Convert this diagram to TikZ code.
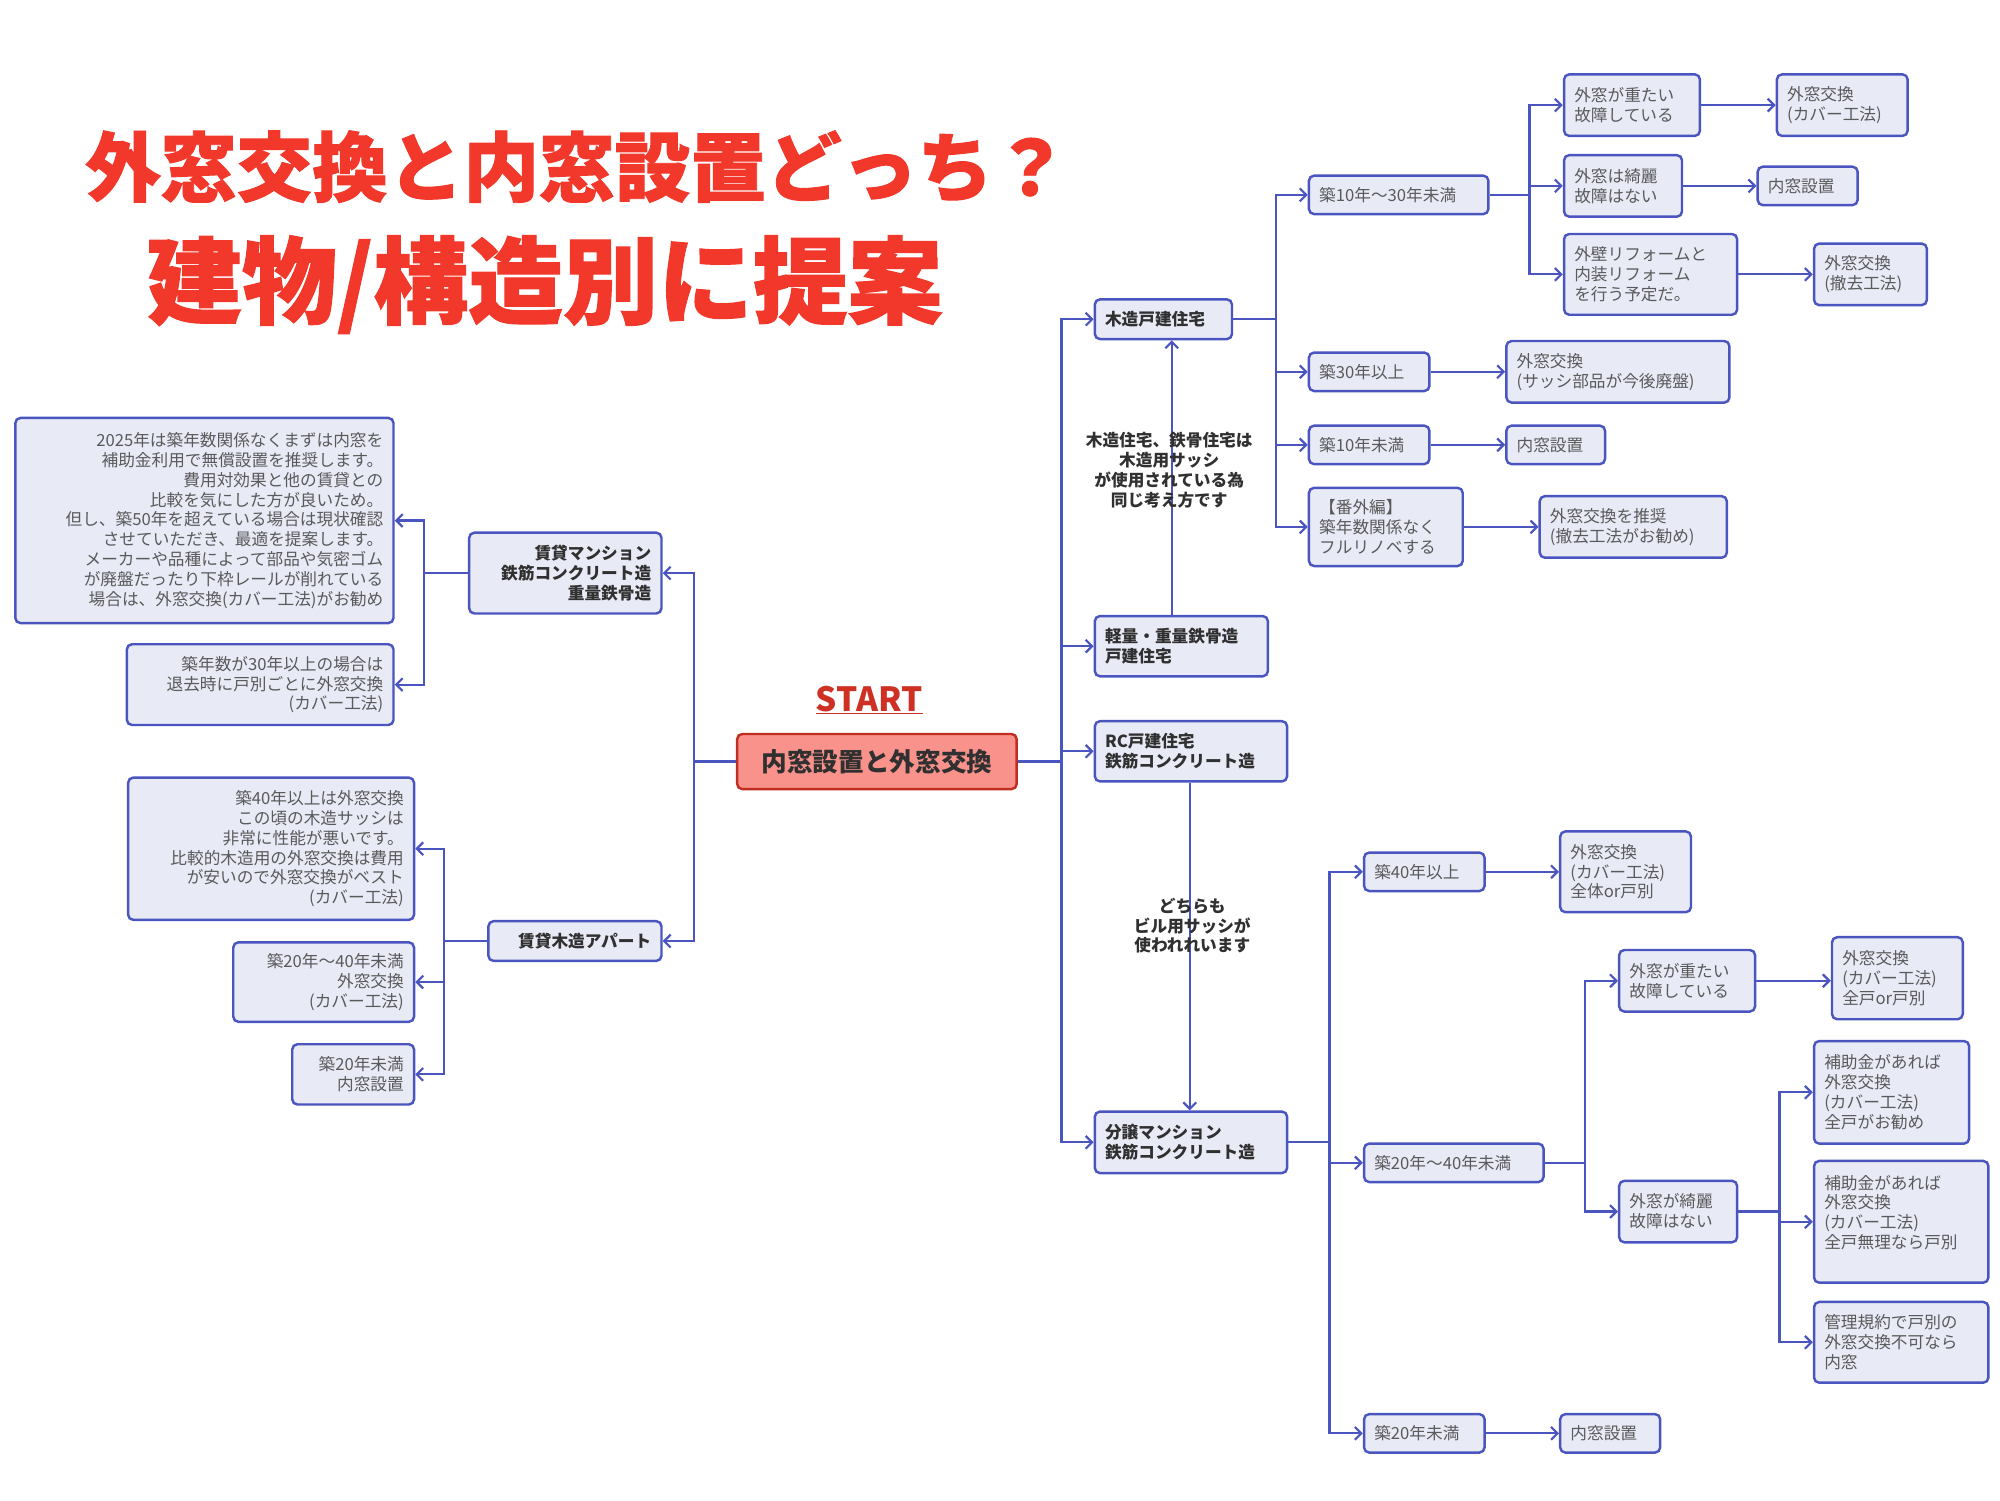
\documentclass[tikz,border=0pt]{standalone}
\usepackage{fontspec}
\setmainfont{Noto Sans CJK JP}
\usetikzlibrary{arrows.meta}
\definecolor{bc}{HTML}{4B55C0}
\definecolor{bf}{HTML}{E8EAF6}
\definecolor{tg}{HTML}{5A5A5A}
\definecolor{td}{HTML}{303030}
\definecolor{tr}{HTML}{F2382B}
\newcommand\fs{\fontsize{13}{15.5}\selectfont}
\newcommand\bx[7][]{\pgfmathsetmacro\tw{#4-#3-16}\node[box,#1,text width=\tw pt,minimum height=#6pt] (#2) at (#3,#5) {#7};}
\begin{document}
\begin{tikzpicture}[x=1pt,y=-1pt,
  box/.style={draw=bc,fill=bf,rounded corners=4pt,line width=1.9pt,inner xsep=8pt,inner ysep=4pt,text=tg,font=\fs,anchor=west,align=left},
  bold/.style={text=td,font=\fs\bfseries},
  arr/.style={draw=bc,line width=1.7pt,-{Straight Barb[length=5pt,width=10pt,line width=1.7pt]}},
  lbl/.style={text=td,font=\fs\bfseries,align=center}]
\useasboundingbox (0,0) rectangle (1560,1170);
% title
\node[text=tr,font=\fontsize{59}{62}\selectfont\bfseries\addfontfeature{FakeBold=1.2}] (t1) at (450,130) {外窓交換と内窓設置どっち？};
\node[text=tr,font=\fontsize{74}{78}\selectfont\bfseries\addfontfeature{FakeBold=1.2}] (t2) at (425,222) {建物/構造別に提案};
% root
\node[text=tr!85!black,font=\fontsize{26}{28}\selectfont\bfseries] (st) at (678,546) {\underline{START}};
\node[draw=tr!80!black,fill=tr!55!white,rounded corners=4pt,line width=1.9pt,minimum width=218pt,minimum height=43pt,text=td,font=\fontsize{20}{22}\selectfont\bfseries] (root) at (684,594) {内窓設置と外窓交換};
% right level 1
\bx[bold]{A}{853}{960}{249}{31}{木造戸建住宅}
\bx[bold]{B}{853}{988}{504}{47}{軽量・重量鉄骨造\\戸建住宅}
\bx[bold]{C}{853}{1003}{586}{47}{RC戸建住宅\\鉄筋コンクリート造}
\bx[bold]{D}{853}{1003}{891}{48}{分譲マンション\\鉄筋コンクリート造}
\foreach \n in {A,B,C,D} \draw[arr] (root.east) -- (828,594) |- (\n.west);
\draw[arr] (B.north -| 914,0) -- (A.south -| 914,0);
\node[lbl] (la) at (912,367) {木造住宅、鉄骨住宅は\\木造用サッシ\\が使用されている為\\同じ考え方です};
\draw[arr] (C.south -| 928,0) -- (D.north -| 928,0);
\node[lbl] (lb) at (930,722) {どちらも\\ビル用サッシが\\使われれいます};
% A children
\bx{A1}{1020}{1160}{152}{30}{築10年〜30年未満}
\bx{A2}{1020}{1114}{290}{30}{築30年以上}
\bx{A3}{1020}{1114}{347}{30}{築10年未満}
\bx{A4}{1020}{1140}{411}{61}{【番外編】\\築年数関係なく\\フルリノベする}
\foreach \n in {A1,A2,A3,A4} \draw[arr] (A.east) -- (995,249) |- (\n.west);
\bx{A11}{1219}{1325}{82}{48}{外窓が重たい\\故障している}
\bx{A12}{1219}{1311}{145}{48}{外窓は綺麗\\故障はない}
\bx{A13}{1219}{1354}{214}{63}{外壁リフォームと\\内装リフォーム\\を行う予定だ。}
\foreach \n in {A11,A12,A13} \draw[arr] (A1.east) -- (1193,152) |- (\n.west);
\bx{A111}{1385}{1487}{82}{48}{外窓交換\\(カバー工法)}
\bx{A121}{1370}{1448}{145}{30}{内窓設置}
\bx{A131}{1414}{1502}{214}{48}{外窓交換\\(撤去工法)}
\bx{A21}{1174}{1348}{290}{48}{外窓交換\\(サッシ部品が今後廃盤)}
\bx{A31}{1174}{1251}{347}{30}{内窓設置}
\bx{A41}{1200}{1346}{411}{48}{外窓交換を推奨\\(撤去工法がお勧め)}
\draw[arr] (A11) -- (A111);
\draw[arr] (A12) -- (A121);
\draw[arr] (A13) -- (A131);
\draw[arr] (A2) -- (A21);
\draw[arr] (A3) -- (A31);
\draw[arr] (A4) -- (A41);
% D children
\bx{D1}{1063}{1157}{680}{30}{築40年以上}
\bx{D2}{1063}{1203}{907}{30}{築20年〜40年未満}
\bx{D3}{1063}{1157}{1118}{30}{築20年未満}
\foreach \n in {D1,D2,D3} \draw[arr] (D.east) -- (1037,891) |- (\n.west);
\bx{D11}{1216}{1318}{680}{63}{外窓交換\\(カバー工法)\\全体or戸別}
\bx{D31}{1216}{1294}{1118}{30}{内窓設置}
\draw[arr] (D1) -- (D11);
\draw[arr] (D3) -- (D31);
\bx{D21}{1262}{1368}{765}{48}{外窓が重たい\\故障している}
\bx{D22}{1262}{1354}{945}{48}{外窓が綺麗\\故障はない}
\foreach \n in {D21,D22} \draw[arr] (D2.east) -- (1236,907) |- (\n.west);
\bx{D211}{1428}{1530}{763}{64}{外窓交換\\(カバー工法)\\全戸or戸別}
\draw[arr] (D21.east) -- (D211.west |- D21.east);
\bx{D221}{1414}{1535}{852}{80}{補助金があれば\\外窓交換\\(カバー工法)\\全戸がお勧め}
\bx{D222}{1414}{1550}{953}{95}{補助金があれば\\外窓交換\\(カバー工法)\\全戸無理なら戸別\\\mbox{}}
\bx{D223}{1414}{1550}{1047}{63}{管理規約で戸別の\\外窓交換不可なら\\内窓}
\foreach \n in {D221,D222,D223} \draw[arr] (D22.east) -- (1388,945) |- (\n.west);
% left side
\bx[bold,align=right]{L1}{365}{515}{447}{63}{賃貸マンション\\鉄筋コンクリート造\\重量鉄骨造}
\bx[bold,align=right]{L2}{380}{515}{734}{31}{賃貸木造アパート}
\foreach \n in {L1,L2} \draw[arr] (root.west) -- (541,594) |- (\n.east);
\bx[align=right]{L11}{11}{306}{406}{160}{2025年は築年数関係なくまずは内窓を\\補助金利用で無償設置を推奨します。\\費用対効果と他の賃貸との\\比較を気にした方が良いため。\\但し、築50年を超えている場合は現状確認\\させていただき、最適を提案します。\\メーカーや品種によって部品や気密ゴム\\が廃盤だったり下枠レールが削れている\\場合は、外窓交換(カバー工法)がお勧め}
\bx[align=right]{L12}{98}{306}{534}{63}{築年数が30年以上の場合は\\退去時に戸別ごとに外窓交換\\(カバー工法)}
\foreach \n in {L11,L12} \draw[arr] (L1.west) -- (331,447) |- (\n.east);
\bx[align=right]{L21}{99}{322}{662}{111}{築40年以上は外窓交換\\この頃の木造サッシは\\非常に性能が悪いです。\\比較的木造用の外窓交換は費用\\が安いので外窓交換がベスト\\(カバー工法)}
\bx[align=right]{L22}{181}{322}{766}{62}{築20年〜40年未満\\外窓交換\\(カバー工法)}
\bx[align=right]{L23}{227}{322}{838}{47}{築20年未満\\内窓設置}
\foreach \n in {L21,L22,L23} \draw[arr] (L2.west) -- (346,734) |- (\n.east);
\end{tikzpicture}
\end{document}
